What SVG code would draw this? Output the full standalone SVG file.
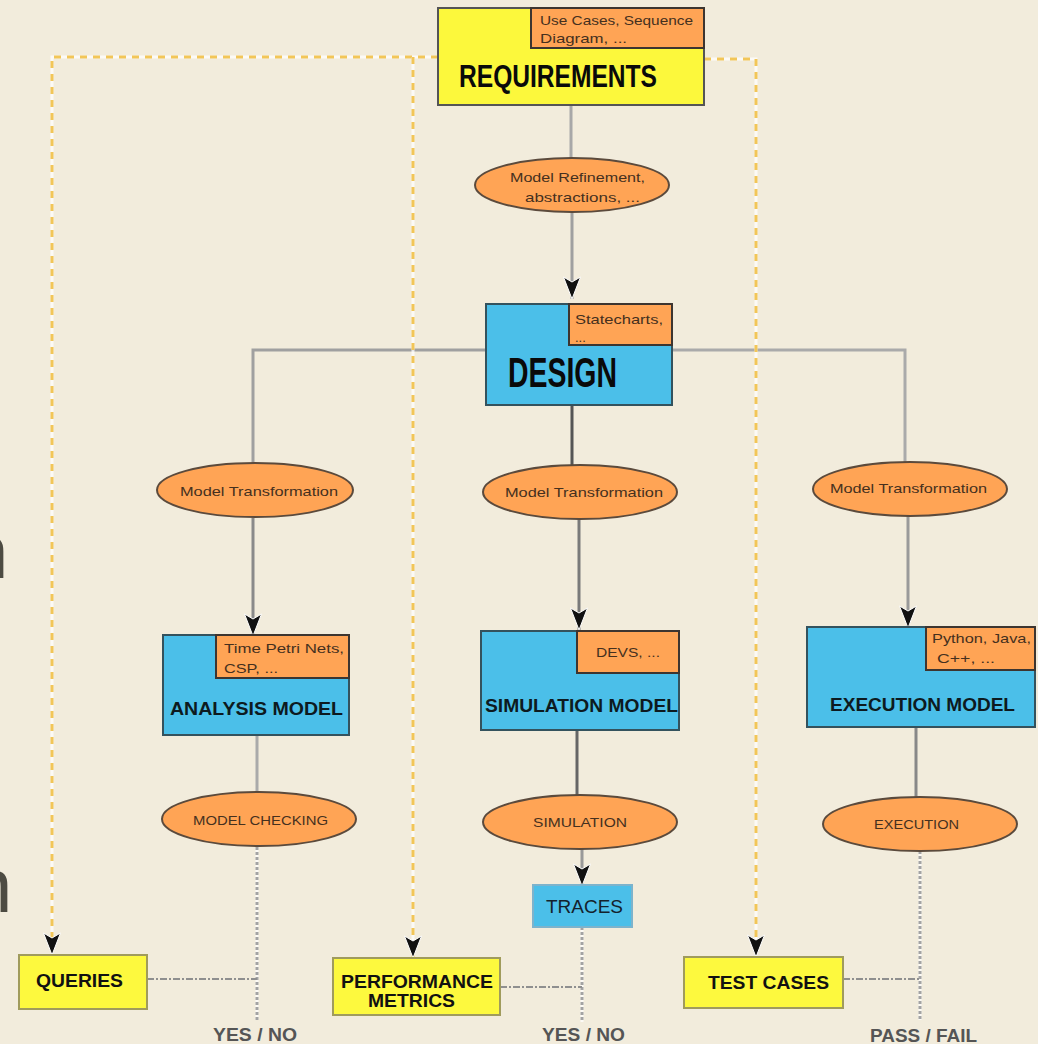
<svg xmlns="http://www.w3.org/2000/svg" width="1038" height="1044" viewBox="0 0 1038 1044">
  <defs>
    <marker id="arrow" markerUnits="userSpaceOnUse" markerWidth="28" markerHeight="22" viewBox="-25 -11 28 22" refX="0" refY="0" orient="auto">
      <path d="M0,0 L-22,-8.5 L-17,0 L-22,8.5 Z" fill="#111" stroke="#fff" stroke-width="1" stroke-linejoin="round"/>
    </marker>
    <style>
      .yel { fill: #fcf83c; stroke: #555; stroke-width: 2; }
      .yel2 { fill: #fdf93e; stroke: #a09b5c; stroke-width: 2; }
      .blue { fill: #4bbfe9; stroke: #34525d; stroke-width: 2; }
      .blue2 { fill: #4bbfe9; stroke: #7db3cc; stroke-width: 2; }
      .tag { fill: #ffa455; stroke: #3d3530; stroke-width: 2; }
      .oval { fill: #ffa455; stroke: #5b4a3c; stroke-width: 2; }
      .small { font-family: "Liberation Sans", Arial, sans-serif; font-size: 13px; fill: #45301e; }
      .big { font-family: "Liberation Sans", Arial, sans-serif; font-weight: bold; fill: #0a0a0a; }
      .mid { font-family: "Liberation Sans", Arial, sans-serif; font-weight: bold; font-size: 18px; fill: #0d1a20; }
      .box { font-family: "Liberation Sans", Arial, sans-serif; font-weight: bold; font-size: 19px; fill: #111; }
      .verdict { font-family: "Liberation Sans", Arial, sans-serif; font-weight: bold; font-size: 18px; fill: #555; }
      .solid { fill: none; stroke-width: 3; }
      .halo { fill: none; stroke: #ffffff; stroke-opacity: 0.75; stroke-width: 3; }
      .yellowdot { fill: none; stroke: #f2c658; stroke-width: 3; stroke-dasharray: 7 6; }
      .graydot { fill: none; stroke: #a3a3a3; stroke-width: 3; stroke-dasharray: 3 2; }
      .graydash { fill: none; stroke: #8f8f8f; stroke-width: 2; stroke-dasharray: 7 2 2 2; }
    </style>
  </defs>

  <!-- page background -->
  <rect x="0" y="0" width="1038" height="1044" fill="#f2ecdc"/>

  <!-- clipped letters bleeding in from the left margin -->
  <text x="-34" y="578" font-family="Liberation Sans, Arial, sans-serif" font-size="76" fill="#4d4b42">n</text>
  <text x="-30" y="912" font-family="Liberation Sans, Arial, sans-serif" font-size="76" fill="#4d4b42">n</text>

  <!-- connectors -->
  <g id="connectors">
    <!-- requirements to refinement to design -->
    <path class="solid" stroke="#a8a8a8" d="M571,105 V158"/>
    <path class="solid" stroke="#a0a0a0" d="M572,213 V299" marker-end="url(#arrow)"/>
    <!-- design branches -->
    <path class="solid" stroke="#a0a0a0" stroke-width="2" d="M486,350 H253 V463"/>
    <path class="solid" stroke="#aaaaaa" stroke-width="2" d="M672,350 H905 V462"/>
    <path class="solid" stroke="#555555" d="M572,405 V465"/>
    <!-- transformations to models -->
    <path class="solid" stroke="#8a8a8a" d="M253,518 V636" marker-end="url(#arrow)"/>
    <path class="solid" stroke="#7a7a7a" d="M579,519 V630" marker-end="url(#arrow)"/>
    <path class="solid" stroke="#9a9a9a" d="M908,516 V628" marker-end="url(#arrow)"/>
    <!-- models to activities -->
    <path class="solid" stroke="#aaaaaa" d="M257,735 V792"/>
    <path class="solid" stroke="#666666" d="M577,730 V795"/>
    <path class="solid" stroke="#888888" d="M916,727 V797"/>
    <path class="solid" stroke="#999999" d="M582,849 V886" marker-end="url(#arrow)"/>

    <!-- result lines -->
    <path class="halo" d="M257,847 V1020"/>
    <path class="graydot" d="M257,847 V1020"/>
    <path class="halo" d="M582,927 V1022"/>
    <path class="graydot" d="M582,927 V1022"/>
    <path class="halo" d="M920,851 V1020"/>
    <path class="graydot" d="M920,851 V1020"/>
    <path class="graydash" d="M147,979 H257"/>
    <path class="graydash" d="M500,987 H582"/>
    <path class="graydash" d="M843,979 H920"/>

    <!-- requirement traces to queries, metrics and tests -->
    <path class="halo" d="M438,57 H52 V945"/>
    <path class="yellowdot" d="M438,57 H52 V955" marker-end="url(#arrow)"/>
    <path class="halo" d="M413,57 V948"/>
    <path class="yellowdot" d="M413,57 V958" marker-end="url(#arrow)"/>
    <path class="halo" d="M704,59 H756 V947"/>
    <path class="yellowdot" d="M704,59 H756 V957" marker-end="url(#arrow)"/>
  </g>

  <g id="requirements">
    <rect class="yel" x="438" y="8" width="266" height="97"/>
    <rect class="tag" x="531" y="8" width="173" height="40"/>
    <text class="small" x="540" y="25" textLength="153" lengthAdjust="spacingAndGlyphs">Use Cases, Sequence</text>
    <text class="small" x="540" y="43" textLength="87" lengthAdjust="spacingAndGlyphs">Diagram, ...</text>
    <text class="big" x="459" y="87" font-size="31" textLength="198" lengthAdjust="spacingAndGlyphs">REQUIREMENTS</text>
  </g>

  <g id="refinement">
    <ellipse class="oval" cx="572" cy="185" rx="97" ry="27"/>
    <text class="small" x="510" y="182" textLength="135" lengthAdjust="spacingAndGlyphs">Model Refinement,</text>
    <text class="small" x="525" y="202" textLength="115" lengthAdjust="spacingAndGlyphs">abstractions, ...</text>
  </g>

  <g id="design">
    <rect class="blue" x="486" y="304" width="186" height="101"/>
    <rect class="tag" x="569" y="304" width="103" height="41"/>
    <text class="small" x="575" y="324" textLength="88" lengthAdjust="spacingAndGlyphs">Statecharts,</text>
    <text class="small" x="575" y="342">...</text>
    <text class="big" x="508" y="387" font-size="42" textLength="109" lengthAdjust="spacingAndGlyphs">DESIGN</text>
  </g>

  <g id="transform-analysis">
    <ellipse class="oval" cx="255" cy="490" rx="98" ry="27"/>
    <text class="small" x="180" y="496" textLength="158" lengthAdjust="spacingAndGlyphs">Model Transformation</text>
  </g>
  <g id="transform-simulation">
    <ellipse class="oval" cx="580" cy="492" rx="97" ry="27"/>
    <text class="small" x="505" y="497" textLength="158" lengthAdjust="spacingAndGlyphs">Model Transformation</text>
  </g>
  <g id="transform-execution">
    <ellipse class="oval" cx="910" cy="489" rx="97" ry="27"/>
    <text class="small" x="830" y="493" textLength="157" lengthAdjust="spacingAndGlyphs">Model Transformation</text>
  </g>

  <g id="analysis-model">
    <rect class="blue" x="163" y="635" width="186" height="100"/>
    <rect class="tag" x="216" y="635" width="133" height="43"/>
    <text class="small" x="224" y="653" textLength="120" lengthAdjust="spacingAndGlyphs">Time Petri Nets,</text>
    <text class="small" x="224" y="673" textLength="54" lengthAdjust="spacingAndGlyphs">CSP, ...</text>
    <text class="mid" x="170" y="715" textLength="173" lengthAdjust="spacingAndGlyphs">ANALYSIS MODEL</text>
  </g>

  <g id="simulation-model">
    <rect class="blue" x="481" y="631" width="198" height="99"/>
    <rect class="tag" x="577" y="631" width="102" height="42"/>
    <text class="small" x="596" y="657" textLength="64" lengthAdjust="spacingAndGlyphs">DEVS, ...</text>
    <text class="mid" x="485" y="712" textLength="193" lengthAdjust="spacingAndGlyphs">SIMULATION MODEL</text>
  </g>

  <g id="execution-model">
    <rect class="blue" x="807" y="627" width="228" height="100"/>
    <rect class="tag" x="926" y="627" width="109" height="43"/>
    <text class="small" x="932" y="643" textLength="99" lengthAdjust="spacingAndGlyphs">Python, Java,</text>
    <text class="small" x="937" y="663" textLength="58" lengthAdjust="spacingAndGlyphs">C++, ...</text>
    <text class="mid" x="830" y="711" textLength="185" lengthAdjust="spacingAndGlyphs">EXECUTION MODEL</text>
  </g>

  <g id="model-checking">
    <ellipse class="oval" cx="259" cy="819" rx="97" ry="27"/>
    <text class="small" x="193" y="825" textLength="135" lengthAdjust="spacingAndGlyphs">MODEL CHECKING</text>
  </g>
  <g id="simulation">
    <ellipse class="oval" cx="580" cy="822" rx="97" ry="27"/>
    <text class="small" x="533" y="827" textLength="94" lengthAdjust="spacingAndGlyphs">SIMULATION</text>
  </g>
  <g id="execution">
    <ellipse class="oval" cx="920" cy="824" rx="97" ry="27"/>
    <text class="small" x="874" y="829" textLength="85" lengthAdjust="spacingAndGlyphs">EXECUTION</text>
  </g>

  <g id="traces">
    <rect class="blue2" x="533" y="885" width="99" height="42"/>
    <text x="546" y="913" font-family="Liberation Sans, Arial, sans-serif" font-size="19" fill="#14222c" textLength="77" lengthAdjust="spacingAndGlyphs">TRACES</text>
  </g>

  <g id="queries">
    <rect class="yel2" x="19" y="955" width="128" height="54"/>
    <text class="box" x="36" y="987" textLength="87" lengthAdjust="spacingAndGlyphs">QUERIES</text>
  </g>

  <g id="performance-metrics">
    <rect class="yel2" x="333" y="958" width="167" height="57"/>
    <text class="box" x="341" y="988" textLength="152" lengthAdjust="spacingAndGlyphs">PERFORMANCE</text>
    <text class="box" x="368" y="1007" textLength="87" lengthAdjust="spacingAndGlyphs">METRICS</text>
  </g>

  <g id="test-cases">
    <rect class="yel2" x="684" y="957" width="159" height="51"/>
    <text class="box" x="708" y="989" textLength="121" lengthAdjust="spacingAndGlyphs">TEST CASES</text>
  </g>

  <g id="verdicts">
    <text class="verdict" x="213" y="1041" textLength="84" lengthAdjust="spacingAndGlyphs">YES / NO</text>
    <text class="verdict" x="542" y="1041" textLength="83" lengthAdjust="spacingAndGlyphs">YES / NO</text>
    <text class="verdict" x="870" y="1042" textLength="107" lengthAdjust="spacingAndGlyphs">PASS / FAIL</text>
  </g>
</svg>
